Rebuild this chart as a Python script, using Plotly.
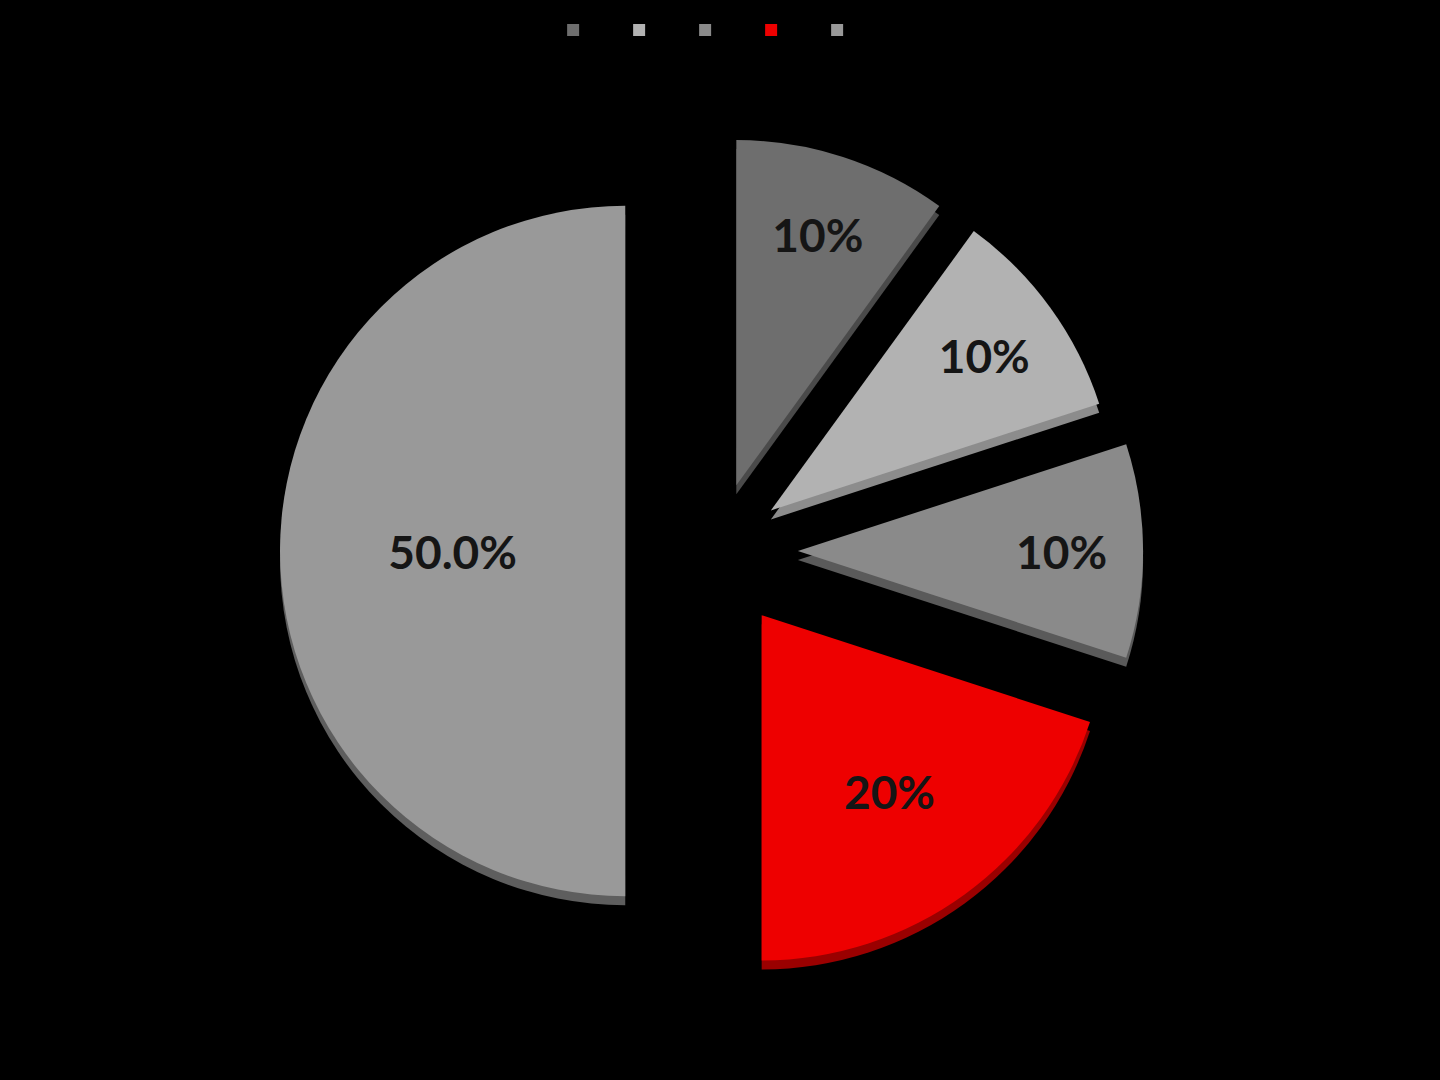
import plotly.graph_objects as go

# slices, clockwise from 12 o'clock
labels = ["\u2002", "\u2002\u2002", "\u2002\u2002\u2002", "\u2002\u2002\u2002\u2002", "\u2002\u2002\u2002\u2002\u2002"]
values = [10, 10, 10, 20, 50]
slice_text = ["10%", "10%", "10%", "20%", "50.0%"]
colors = ["#6e6e6e", "#b2b2b2", "#8a8a8a", "#ee0000", "#999999"]
edge_colors = ["#4a4a4a", "#8c8c8c", "#5a5a5a", "#9a0000", "#5e5e5e"]
pulls = [0.2, 0.2, 0.24, 0.23, 0.26]

W, H = 1440, 1080
top_px, bottom_px = 116, 986
depth_px = 9

fig = go.Figure()

# darker copy a few px lower gives the slices their thick edge
fig.add_trace(go.Pie(
    labels=labels,
    values=values,
    textinfo="none",
    marker=dict(colors=edge_colors, line=dict(width=0)),
    pull=pulls,
    sort=False,
    direction="clockwise",
    rotation=0,
    domain=dict(x=[280 / W, 1150 / W], y=[1 - (bottom_px + depth_px) / H, 1 - (top_px + depth_px) / H]),
    showlegend=False,
    hoverinfo="skip",
))

fig.add_trace(go.Pie(
    labels=labels,
    values=values,
    text=slice_text,
    textinfo="text",
    textposition="inside",
    insidetextorientation="horizontal",
    textfont=dict(family="Lato", size=46, color="#151515", weight="bold"),
    marker=dict(colors=colors, line=dict(width=0)),
    pull=pulls,
    sort=False,
    direction="clockwise",
    rotation=0,
    domain=dict(x=[280 / W, 1150 / W], y=[1 - bottom_px / H, 1 - top_px / H]),
    hoverinfo="skip",
))

fig.update_layout(
    width=W,
    height=H,
    paper_bgcolor="#000000",
    plot_bgcolor="#000000",
    margin=dict(l=0, r=0, t=0, b=0),
    showlegend=True,
    legend=dict(
        orientation="h",
        x=0.4987,
        xanchor="center",
        y=1 - 30 / H,
        yanchor="middle",
        entrywidth=21,
        entrywidthmode="pixels",
        font=dict(color="#000000", size=10),
        bgcolor="rgba(0,0,0,0)",
    ),
)

fig.write_html(
    "out.html",
    config={"displayModeBar": False},
    post_script="document.body.style.margin='0';document.body.style.background='#000';",
)
